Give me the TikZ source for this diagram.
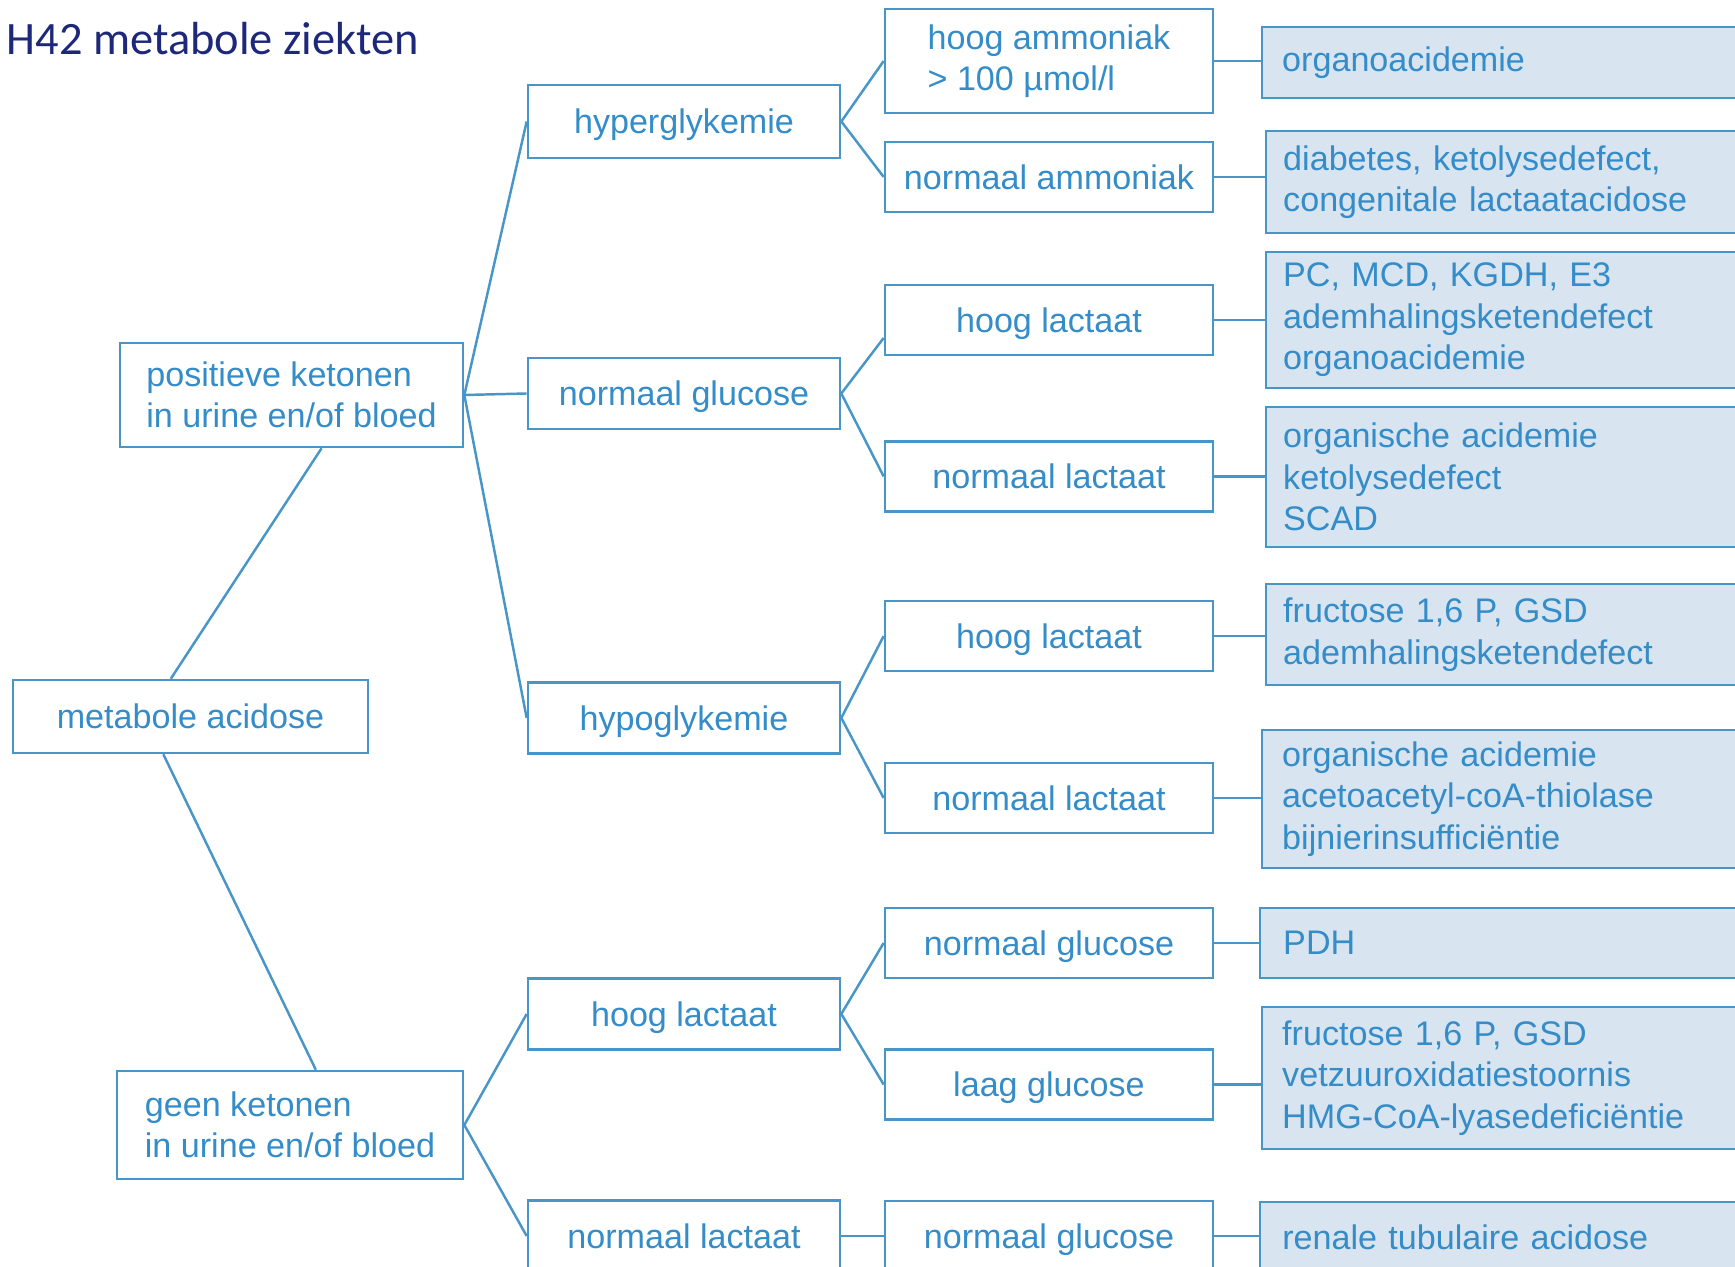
\documentclass[tikz,border=0pt]{standalone}
\usepackage{fontspec}
\setmainfont{Liberation Sans}
\newfontfamily\titlefont{Carlito}
\usetikzlibrary{calc}
\definecolor{lineblue}{RGB}{72,150,200}
\definecolor{txtblue}{RGB}{52,140,200}
\definecolor{fillblue}{RGB}{216,228,240}
\definecolor{navy}{RGB}{30,40,122}

\begin{document}
\begin{tikzpicture}[x=0.01cm,y=-0.01cm,
  every node/.style={font=\fontsize{9.7}{11.8}\selectfont, text=txtblue},
  box/.style={draw=lineblue, line width=0.7pt, inner sep=0pt},
  levelbox/.style={box, text depth=0pt, minimum width=3.12cm, minimum height=0.71cm},
  testbox/.style={box, text depth=0pt, minimum width=3.28cm, minimum height=0.70cm},
  diagbox/.style={box, fill=fillblue, anchor=west, minimum width=5.4cm,
    text width=5.06cm, inner xsep=0.17cm, align=left},
  link/.style={draw=lineblue, line width=0.7pt}]
\useasboundingbox (0,0) rectangle (1735,1267);
\clip (0,0) rectangle (1735,1267);

\node[anchor=base west, inner sep=0pt, font=\titlefont\fontsize{13.2}{16}\selectfont, text=navy] (title) at (6,55) {H42 metabole ziekten};

% column 1
\node[box, text depth=0pt, minimum width=3.55cm, minimum height=0.73cm] (acid) at (190.5,716.5) {metabole acidose};
\node[box, minimum width=3.43cm, minimum height=1.04cm, align=left] (pos) at (291.5,395) {positieve ketonen\\in urine en/of bloed};
\node[box, minimum width=3.46cm, minimum height=1.08cm, align=left] (neg) at (290,1125) {geen ketonen\\in urine en/of bloed};

% column 2
\node[levelbox, minimum height=0.73cm] (hyper) at (684,121.5) {hyperglykemie};
\node[levelbox] (normgluc) at (684,393.5) {normaal glucose};
\node[levelbox] (hypo) at (684,718) {hypoglykemie};
\node[levelbox] (highlac) at (684,1014) {hoog lactaat};
\node[levelbox] (normlac) at (684,1236) {normaal lactaat};

% column 3
\node[box, minimum width=3.28cm, minimum height=1.04cm, align=left] (ammhigh) at (1049,61) {hoog ammoniak\\> 100 µmol/l};
\node[testbox] (ammnorm) at (1049,177) {normaal ammoniak};
\node[testbox] (lacA) at (1049,320) {hoog lactaat};
\node[testbox] (lacB) at (1049,476.5) {normaal lactaat};
\node[testbox] (lacC) at (1049,636) {hoog lactaat};
\node[testbox] (lacD) at (1049,798) {normaal lactaat};
\node[testbox] (glucA) at (1049,943) {normaal glucose};
\node[testbox] (glucB) at (1049,1084.5) {laag glucose};
\node[testbox] (glucC) at (1049,1236) {normaal glucose};

% column 4
\node[diagbox, inner xsep=0.2cm, minimum height=0.71cm] (dx1) at (1261,62.5) {organoacidemie};
\node[diagbox, minimum height=1.02cm] (dx2) at (1265,182) {diabetes, ketolysedefect,\\congenitale lactaatacidose};
\node[diagbox, minimum height=1.36cm] (dx3) at (1265,320) {PC, MCD, KGDH, E3\\ademhalingsketendefect\\organoacidemie};
\node[diagbox, minimum height=1.40cm] (dx4) at (1265,477) {organische acidemie\\ketolysedefect\\SCAD};
\node[diagbox, minimum height=1.01cm] (dx5) at (1265,634.5) {fructose 1,6 P, GSD\\ademhalingsketendefect};
\node[diagbox, inner xsep=0.2cm, minimum height=1.38cm] (dx6) at (1261,799) {organische acidemie\\acetoacetyl-coA-thiolase\\bijnierinsufficiëntie};
\node[diagbox, inner xsep=0.23cm, minimum height=0.70cm] (dx7) at (1259,943) {PDH};
\node[diagbox, inner xsep=0.2cm, minimum height=1.42cm] (dx8) at (1261,1078) {fructose 1,6 P, GSD\\vetzuuroxidatiestoornis\\HMG-CoA-lyasedeficiëntie};
\node[diagbox, inner xsep=0.22cm, minimum height=0.70cm] (dx9) at (1259,1237) {renale tubulaire acidose};

% connectors
\draw[link] ($(acid.north west)!0.445!(acid.north east)$) -- ($(pos.south west)!0.587!(pos.south east)$);
\draw[link] ($(acid.south west)!0.424!(acid.south east)$) -- ($(neg.north west)!0.574!(neg.north east)$);
\foreach \t in {hyper,normgluc,hypo} \draw[link] (pos.east) -- (\t.west);
\foreach \t in {highlac,normlac} \draw[link] (neg.east) -- (\t.west);
\foreach \a/\b in {hyper/ammhigh,hyper/ammnorm,normgluc/lacB,hypo/lacC,hypo/lacD,highlac/glucA,highlac/glucB,normlac/glucC}
  \draw[link] (\a.east) -- (\b.west);
\draw[link] (normgluc.east) -- ($(lacA.west)+(0,18)$);
\foreach \a/\b in {ammhigh/dx1,ammnorm/dx2,lacA/dx3,lacB/dx4,lacC/dx5,lacD/dx6,glucA/dx7,glucB/dx8,glucC/dx9}
  \draw[link] (\a.east) -- (\a.east -| \b.west);
\end{tikzpicture}
\end{document}
